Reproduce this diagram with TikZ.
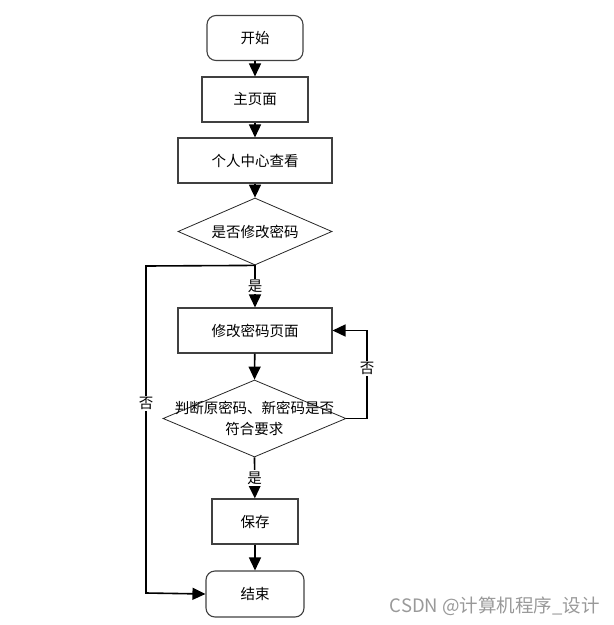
\documentclass[tikz,border=0pt]{standalone}
\usepackage{fontspec}
\setmainfont{Noto Sans CJK SC}
\usetikzlibrary{shapes.geometric,arrows.meta,calc}
\begin{document}
\begin{tikzpicture}[x=1pt,y=1pt,
  every node/.style={font=\fontsize{14.5}{21}\selectfont, inner sep=0pt},
  procbox/.style={draw=black!75, line width=1.1pt, minimum height=45pt},
  termbox/.style={procbox, rounded corners=9pt},
  decbox/.style={draw=black!85, line width=0.8pt, diamond, inner sep=0pt},
  flow/.style={line width=1.6pt, -{Triangle[width=12pt,length=13pt]}},
  lbl/.style={fill=white, inner sep=1.5pt}]
\useasboundingbox (0,0) rectangle (614,-625);
\node[termbox, minimum width=96pt] (start) at (255,-38) {开始};
\node[procbox, minimum width=106pt] (home) at (255,-99.5) {主页面};
\node[procbox, minimum width=154pt] (center) at (255,-160.5) {个人中心查看};
\node[decbox, minimum width=154pt, minimum height=67pt] (q1) at (255,-231.5) {};
\node (q1t) at (255,-231.5) {是否修改密码};
\node[procbox, minimum width=154pt] (modify) at (255,-330.5) {修改密码页面};
\node[decbox, minimum width=183pt, minimum height=77pt] (q2) at (254.5,-418.5) {};
\node[align=center] (q2t) at (254.5,-418.5) {判断原密码、新密码是否\\符合要求};
\node[procbox, minimum width=86pt] (save) at (255,-521.5) {保存};
\node[termbox, minimum width=98pt, minimum height=46pt] (end) at (255,-594) {结束};
\coordinate (lt) at (146,-266);
\coordinate (lb) at (146,-593);
\coordinate (rt) at (367,-418.5);
\coordinate (rb) at (367,-330.5);
\draw[flow] (start) -- (home);
\draw[flow] (home) -- (center);
\draw[flow] (center) -- (q1.north);
\draw[flow] (q1.south) -- node[lbl, pos=0.5] {是} (modify);
\draw[flow] (modify) -- (q2.north);
\draw[flow] (q2.south) -- node[lbl, pos=0.5] {是} (save);
\draw[flow] (save) -- (end);
\draw[flow] (q1.south) -- (lt) -- (lb) -- (end.west);
\draw[flow] (q2.east) -- (rt) -- (rb) -- (modify.east);
\node[lbl] (noL) at ($(lt)!0.42!(lb)$) {否};
\node[lbl] (noR) at ($(rt)!0.57!(rb)$) {否};
\node[text=black!40, font=\fontsize{18.5}{22}\selectfont, anchor=east] (wm) at (600,-606) {CSDN @计算机程序\_设计};
\end{tikzpicture}
\end{document}
